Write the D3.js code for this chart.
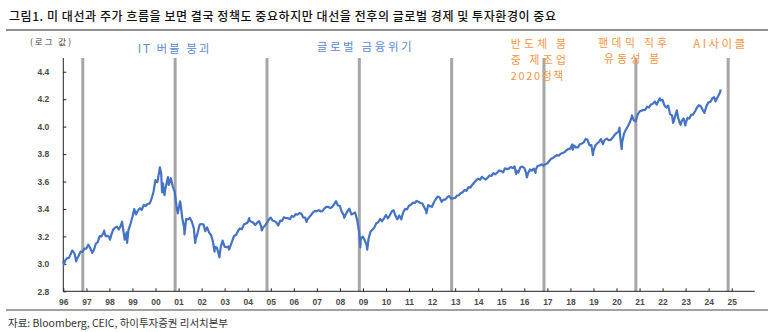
<!DOCTYPE html>
<html><head><meta charset="utf-8">
<script src="https://cdn.jsdelivr.net/npm/d3@7"></script>
<style>html,body{margin:0;padding:0;background:#fff}svg{display:block}</style>
</head><body>
<svg id="c" width="773" height="332"></svg>
<script>
// ---- data (Nasdaq composite level, plotted as log10) ----
const dates = [
"1996-01-02","1996-01-10","1996-01-31","1996-02-29","1996-03-29","1996-04-30","1996-05-22","1996-05-31","1996-06-28","1996-07-24","1996-07-31","1996-08-30","1996-09-30","1996-10-31","1996-11-29","1996-12-31",
"1997-01-31","1997-02-28","1997-03-31","1997-04-02","1997-04-30","1997-05-30","1997-06-30","1997-07-31","1997-08-29","1997-09-30","1997-10-09","1997-10-31","1997-11-28","1997-12-31",
"1998-01-09","1998-01-30","1998-02-27","1998-03-31","1998-04-30","1998-05-29","1998-06-30","1998-07-20","1998-07-31","1998-08-31","1998-09-30","1998-10-08","1998-10-30","1998-11-30","1998-12-31",
"1999-01-29","1999-02-26","1999-03-31","1999-04-30","1999-05-28","1999-06-30","1999-07-30","1999-08-31","1999-09-30","1999-10-29","1999-11-30","1999-12-31",
"2000-01-31","2000-02-29","2000-03-10","2000-03-31","2000-04-14","2000-04-28","2000-05-23","2000-05-31","2000-06-30","2000-07-17","2000-07-31","2000-08-31","2000-09-29","2000-10-31","2000-11-30","2000-12-20","2000-12-29",
"2001-01-24","2001-01-31","2001-02-28","2001-03-30","2001-04-04","2001-04-30","2001-05-31","2001-06-29","2001-07-31","2001-08-31","2001-09-21","2001-09-28","2001-10-31","2001-11-30","2001-12-31",
"2002-01-31","2002-02-28","2002-03-28","2002-04-30","2002-05-31","2002-06-28","2002-07-24","2002-07-31","2002-08-30","2002-09-30","2002-10-09","2002-10-31","2002-11-29","2002-12-31",
"2003-01-31","2003-02-28","2003-03-11","2003-03-31","2003-04-30","2003-05-30","2003-06-30","2003-07-31","2003-08-29","2003-09-30","2003-10-31","2003-11-28","2003-12-31",
"2004-01-26","2004-01-30","2004-02-27","2004-03-31","2004-04-30","2004-05-28","2004-06-30","2004-07-30","2004-08-12","2004-08-31","2004-09-30","2004-10-29","2004-11-30","2004-12-31",
"2005-01-31","2005-02-28","2005-03-31","2005-04-28","2005-05-31","2005-06-30","2005-07-29","2005-08-31","2005-09-30","2005-10-31","2005-11-30","2005-12-30",
"2006-01-31","2006-02-28","2006-03-31","2006-04-28","2006-05-31","2006-06-30","2006-07-21","2006-07-31","2006-08-31","2006-09-29","2006-10-31","2006-11-30","2006-12-29",
"2007-01-31","2007-02-28","2007-03-30","2007-04-30","2007-05-31","2007-06-29","2007-07-31","2007-08-31","2007-09-28","2007-10-31","2007-11-30","2007-12-31",
"2008-01-31","2008-02-29","2008-03-10","2008-03-31","2008-04-30","2008-05-30","2008-06-30","2008-07-31","2008-08-29","2008-09-30","2008-10-31","2008-11-20","2008-11-28","2008-12-31",
"2009-01-30","2009-02-27","2009-03-09","2009-03-31","2009-04-30","2009-05-29","2009-06-30","2009-07-31","2009-08-31","2009-09-30","2009-10-30","2009-11-30","2009-12-31",
"2010-01-29","2010-02-26","2010-03-31","2010-04-30","2010-05-28","2010-06-30","2010-07-30","2010-08-31","2010-09-30","2010-10-29","2010-11-30","2010-12-31",
"2011-01-31","2011-02-28","2011-03-31","2011-04-29","2011-05-31","2011-06-30","2011-07-29","2011-08-31","2011-09-30","2011-10-03","2011-10-31","2011-11-30","2011-12-30",
"2012-01-31","2012-02-29","2012-03-30","2012-04-30","2012-05-31","2012-06-29","2012-07-31","2012-08-31","2012-09-28","2012-10-31","2012-11-30","2012-12-31",
"2013-01-31","2013-02-28","2013-03-28","2013-04-30","2013-05-31","2013-06-28","2013-07-31","2013-08-30","2013-09-30","2013-10-31","2013-11-29","2013-12-31",
"2014-01-31","2014-02-28","2014-03-31","2014-04-30","2014-05-30","2014-06-30","2014-07-31","2014-08-29","2014-09-30","2014-10-31","2014-11-28","2014-12-31",
"2015-01-30","2015-02-27","2015-03-31","2015-04-30","2015-05-29","2015-06-30","2015-07-31","2015-08-24","2015-08-31","2015-09-30","2015-10-30","2015-11-30","2015-12-31",
"2016-01-29","2016-02-11","2016-02-29","2016-03-31","2016-04-29","2016-05-31","2016-06-27","2016-06-30","2016-07-29","2016-08-31","2016-09-30","2016-10-31","2016-11-30","2016-12-30",
"2017-01-31","2017-02-28","2017-03-31","2017-04-28","2017-05-31","2017-06-30","2017-07-31","2017-08-31","2017-09-29","2017-10-31","2017-11-30","2017-12-29",
"2018-01-31","2018-02-08","2018-02-28","2018-03-29","2018-04-30","2018-05-31","2018-06-29","2018-07-31","2018-08-29","2018-08-31","2018-09-28","2018-10-31","2018-11-30","2018-12-24","2018-12-31",
"2019-01-31","2019-02-28","2019-03-29","2019-04-30","2019-05-31","2019-06-28","2019-07-31","2019-08-30","2019-09-30","2019-10-31","2019-11-29","2019-12-31",
"2020-01-31","2020-02-19","2020-02-28","2020-03-23","2020-03-31","2020-04-30","2020-05-29","2020-06-30","2020-07-31","2020-08-31","2020-09-02","2020-09-30","2020-10-30","2020-11-30","2020-12-31",
"2021-01-29","2021-02-26","2021-03-31","2021-04-30","2021-05-28","2021-06-30","2021-07-30","2021-08-31","2021-09-30","2021-10-29","2021-11-19","2021-11-30","2021-12-31",
"2022-01-31","2022-02-28","2022-03-31","2022-04-29","2022-05-31","2022-06-16","2022-06-30","2022-07-29","2022-08-15","2022-08-31","2022-09-30","2022-10-13","2022-10-31","2022-11-30","2022-12-28","2022-12-30",
"2023-01-31","2023-02-28","2023-03-31","2023-04-28","2023-05-31","2023-06-30","2023-07-31","2023-08-31","2023-09-29","2023-10-26","2023-10-31","2023-11-30","2023-12-29",
"2024-01-31","2024-02-29","2024-03-28","2024-04-19","2024-04-30","2024-05-31","2024-06-28","2024-07-10"
];
const nasdaq = [
1052,988,1060,1100,1101,1190,1250,1243,1185,1042,1081,1141,1227,1221,1293,1291,
1380,1309,1222,1201,1261,1400,1442,1594,1587,1686,1745,1594,1601,1570,
1503,1619,1771,1836,1868,1779,1895,2028,1872,1499,1694,1419,1771,1950,2193,
2506,2288,2461,2543,2471,2686,2639,2739,2746,2966,3336,4069,
3940,4697,5049,4573,3321,3861,3164,3401,3966,4290,3767,4206,3673,3370,2598,2333,2471,
2859,2773,2152,1840,1638,2116,2111,2161,2027,1805,1423,1499,1690,1931,1950,
1934,1731,1845,1688,1616,1463,1229,1328,1315,1172,1114,1330,1479,1336,
1321,1338,1272,1341,1464,1596,1623,1735,1810,1787,1932,1960,2003,
2154,2066,2030,1994,1920,1987,2048,1887,1752,1838,1897,1975,2097,2175,
2062,2052,1999,1904,2068,2057,2185,2152,2152,2120,2233,2205,
2306,2281,2340,2323,2179,2172,2020,2092,2184,2258,2367,2432,2415,
2464,2416,2422,2525,2605,2603,2546,2596,2702,2859,2661,2652,
2390,2272,2170,2279,2413,2523,2293,2326,2368,2092,1721,1316,1536,1577,
1476,1378,1268,1529,1717,1774,1835,1979,2009,2122,2045,2145,2269,
2147,2238,2398,2461,2257,2109,2255,2114,2369,2507,2498,2653,
2700,2782,2781,2874,2835,2774,2756,2580,2415,2335,2684,2620,2605,
2814,2967,3092,3046,2827,2935,2940,3067,3116,2977,3010,3020,
3142,3160,3268,3329,3456,3403,3626,3590,3772,3920,4060,4177,
4104,4308,4199,4115,4243,4408,4370,4580,4493,4631,4792,4736,
4635,4964,4901,4941,5070,4987,5128,4506,4777,4620,5054,5109,5007,
4614,4267,4558,4870,4775,4948,4594,4843,5162,5213,5312,5189,5324,5383,
5615,5825,5912,6048,6199,6140,6348,6429,6496,6728,6874,6903,
7412,6777,7273,7063,7066,7442,7510,7672,8133,8110,8046,7306,7331,6193,6635,
7282,7533,7729,8095,7453,8006,8175,7963,7999,8292,8665,8973,
9151,9817,8567,6860,7700,8890,9490,10059,10745,11775,12056,11168,10912,12199,12888,
13071,13192,13247,13963,13749,14504,14673,15259,14449,15498,16057,15538,15645,
14240,13751,14221,12335,12081,10646,11029,12391,13128,11816,10576,10321,10988,11468,10213,10467,
11585,11456,12222,12227,12935,13788,14346,14035,13219,12596,12851,14226,15011,
15164,16092,16380,15282,15658,16735,17733,18647
];
const electionDates = ["1996-11-05","2000-11-07","2004-11-02","2008-11-04","2012-11-06","2016-11-08","2020-11-03","2024-11-05"];
const yTicks = [2.8,3.0,3.2,3.4,3.6,3.8,4.0,4.2,4.4];
const xTickYears = d3.range(1996, 2026);
const titleText = "그림1.  미 대선과 주가 흐름을 보면 결국 정책도 중요하지만 대선을 전후의 글로벌 경제 및 투자환경이 중요";
const unitText = "(로그 값)";
const sourceText = "자료: Bloomberg, CEIC, 하이투자증권 리서치본부";
const blueNotes = [["IT 버블 붕괴"],["글로벌 금융위기"]];
const orangeNotes = [["반도체 붐","중 제조업","2020정책"],["팬데믹 직후","유동성 붐"],["AI사이클"]];

// ---- drawing ----
const svg = d3.select("#c");
const parse = d3.timeParse("%Y-%m-%d");
const series = dates.map((d,i)=>({date:parse(d), v:Math.log10(nasdaq[i])}));

const x = d3.scaleTime().domain([new Date(1996,0,1), new Date(2026,0,1)]).range([63.3, 754.8]);
const y = d3.scaleLinear().domain([2.8, 4.5]).range([291.3, 58]);

const KR = "'Noto Sans CJK KR','Noto Sans',sans-serif";
const NUM = "'Liberation Sans',Arial,sans-serif";

function fit(sel, w){ sel.attr("textLength", w).attr("lengthAdjust","spacing"); }

// title
svg.append("text").attr("x",9).attr("y",15).attr("dominant-baseline","central")
  .style("font-family",KR).style("font-size","12px").style("font-weight","500").attr("fill","#111")
  .text(titleText).call(fit,547);
// rules
svg.append("line").attr("x1",6).attr("x2",768).attr("y1",30).attr("y2",30).attr("stroke","#6b6b6b").attr("stroke-width",1.5);
svg.append("line").attr("x1",6).attr("x2",768).attr("y1",310).attr("y2",310).attr("stroke","#444").attr("stroke-width",1);

// unit
svg.append("text").attr("x",30).attr("y",41).attr("dominant-baseline","central")
  .style("font-family",KR).style("font-size","8.5px").attr("fill","#404040").text(unitText).call(fit,41);

// election bars
svg.append("g").selectAll("line").data(electionDates).join("line")
  .attr("x1",d=>x(parse(d))).attr("x2",d=>x(parse(d)))
  .attr("y1",58).attr("y2",291.3).attr("stroke","#a6a6a6").attr("stroke-width",3);

// y axis
const yAxis = d3.axisRight(y).tickValues(yTicks).tickSize(3).tickFormat(d3.format(".1f"));
const gy = svg.append("g").attr("transform","translate(63.3,0)").call(yAxis);
gy.select(".domain").attr("d","M0,58V291.3").attr("stroke","#222");
gy.selectAll(".tick line").attr("stroke","#222");
gy.selectAll(".tick text").attr("x",-14).attr("text-anchor","end")
  .style("font-family",NUM).style("font-size","8.5px").style("font-weight","bold").attr("fill","#4a4a4a");

// x axis
const xAxis = d3.axisTop(x).tickValues(xTickYears.map(yr=>new Date(yr,0,1))).tickSize(3).tickFormat(d3.timeFormat("%y"));
const gx = svg.append("g").attr("transform","translate(0,291.3)").call(xAxis);
gx.select(".domain").attr("d","M63.3,0H754.8").attr("stroke","#222");
gx.selectAll(".tick line").attr("stroke","#222");
gx.selectAll(".tick text").attr("y",10.5).attr("dy","0.35em")
  .style("font-family",NUM).style("font-size","8.5px").style("font-weight","bold").attr("fill","#4a4a4a");

// line
const line = d3.line().x(d=>x(d.date)).y(d=>y(d.v));
svg.append("path").datum(series).attr("d",line).attr("fill","none")
  .attr("stroke","#4472c4").attr("stroke-width",2.2).attr("stroke-linejoin","round");

// annotations
const blueC = "#5b8bd6", orangeC = "#f79646";
const FS = "10.8px";
const bluePos = [[137.7,48,71.6],[316.7,45.7,95]];
blueNotes.forEach((lines,i)=>{
  lines.forEach((t,j)=>{
    svg.append("text").attr("x",bluePos[i][0]).attr("y",bluePos[i][1]).attr("dominant-baseline","central")
      .style("font-family",KR).style("font-size","11.5px").attr("fill",blueC).text(t).call(fit,bluePos[i][2]);
  });
});
const orangePos = [
  [[510.7,43.3,55.3],[510.7,58.9,55.3],[510.7,74.5,52.6]],
  [[598.3,42.3,69],[604,57.9,55.3]],
  [[693.3,42.7,51.7]]
];
orangeNotes.forEach((lines,i)=>{
  lines.forEach((t,j)=>{
    const p = orangePos[i][j];
    svg.append("text").attr("x",p[0]).attr("y",p[1]).attr("dominant-baseline","central")
      .style("font-family",KR).style("font-size", i===2 ? "11.5px" : FS).attr("fill",orangeC).text(t).call(fit,p[2]);
  });
});

// source
svg.append("text").attr("x",8).attr("y",322).attr("dominant-baseline","central")
  .style("font-family",KR).style("font-size","10.5px").attr("fill","#333").text(sourceText).call(fit,220);
</script>
</body></html>
